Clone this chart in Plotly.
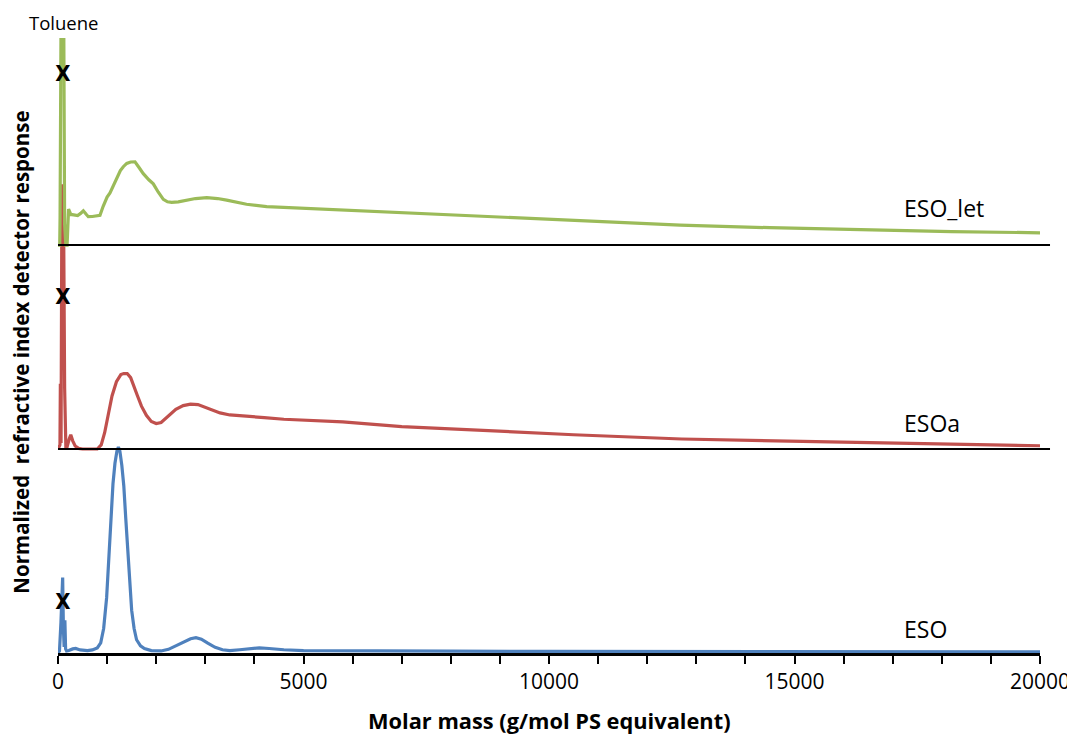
import plotly.graph_objects as go

# ---------------- data ----------------
eso_m = [0, 30, 60, 80, 95, 110, 125, 140, 155, 175, 220, 300, 360, 450, 600, 700, 800, 870, 930, 990,
         1040, 1080, 1120, 1160, 1200, 1230, 1260, 1300, 1340, 1380, 1420, 1460, 1500, 1550, 1600, 1680,
         1760, 1900, 2100, 2250, 2400, 2550, 2700, 2810, 2920, 3050, 3200, 3350, 3500, 3700, 3900, 4100,
         4300, 4600, 5000, 6000, 8000, 10000, 12000, 14000, 16000, 18000, 20000]
eso_v = [0.0, 0.01, 0.15, 0.36, 0.37, 0.12, 0.03, 0.16, 0.02, 0.01, 0.012, 0.02, 0.022, 0.015, 0.012,
         0.015, 0.025, 0.05, 0.12, 0.27, 0.48, 0.68, 0.83, 0.93, 0.99, 1.01, 0.99, 0.92, 0.82, 0.66, 0.5,
         0.34, 0.21, 0.12, 0.065, 0.035, 0.022, 0.012, 0.01, 0.018, 0.035, 0.055, 0.07, 0.075, 0.068,
         0.048, 0.028, 0.016, 0.012, 0.016, 0.022, 0.025, 0.022, 0.016, 0.012, 0.01, 0.009, 0.008, 0.007,
         0.007, 0.006, 0.006, 0.006]

esoa_m = [0, 40, 48, 55, 62, 80, 110, 135, 160, 185, 230, 260, 300, 350, 420, 500, 800, 880, 950, 1020,
          1100, 1190, 1280, 1340, 1410, 1480, 1550, 1620, 1700, 1800, 1900, 2000, 2100, 2250, 2400, 2550,
          2700, 2850, 3000, 3150, 3300, 3500, 3800, 4200, 4600, 5200, 5800, 7000, 8600, 10500, 12700,
          14500, 16300, 18200, 20000]
esoa_v = [0.0, 0.02, 0.32, 0.3, 0.03, 1.29, 1.29, 0.3, 0.01, 0.01, 0.05, 0.07, 0.04, 0.015, 0.003, 0.0,
          0.0, 0.02, 0.08, 0.17, 0.26, 0.33, 0.365, 0.37, 0.37, 0.35, 0.31, 0.26, 0.21, 0.165, 0.135,
          0.125, 0.13, 0.165, 0.195, 0.213, 0.22, 0.218, 0.205, 0.19, 0.177, 0.167, 0.16, 0.154, 0.146,
          0.139, 0.133, 0.11, 0.09, 0.07, 0.049, 0.04, 0.033, 0.024, 0.016]

esolet_m = [0, 35, 42, 48, 55, 70, 110, 135, 160, 185, 215, 260, 320, 400, 460, 516, 570, 617, 700, 800,
            855, 920, 1000, 1059, 1130, 1200, 1270, 1330, 1400, 1480, 1568, 1650, 1737, 1850, 1941, 2040,
            2145, 2230, 2315, 2450, 2620, 2800, 3030, 3250, 3435, 3640, 3840, 4250, 4520, 4930, 6000,
            7300, 8590, 10600, 12670, 14500, 16330, 18200, 20000]
esolet_v = [0.0, 0.0, 0.13, 0.46, 0.2, 1.5, 1.5, 0.1, 0.0, 0.0, 0.176, 0.15, 0.148, 0.145, 0.155, 0.168,
            0.152, 0.139, 0.14, 0.142, 0.146, 0.19, 0.235, 0.255, 0.29, 0.33, 0.365, 0.384, 0.4, 0.407,
            0.408, 0.38, 0.35, 0.32, 0.30, 0.26, 0.224, 0.212, 0.209, 0.212, 0.22, 0.228, 0.232, 0.228,
            0.22, 0.21, 0.2, 0.188, 0.185, 0.18, 0.17, 0.155, 0.142, 0.12, 0.098, 0.085, 0.074, 0.066, 0.06]

series_names = ["ESO", "ESOa", "ESO_let"]
series_m = [eso_m, esoa_m, esolet_m]
series_v = [eso_v, esoa_v, esolet_v]
offsets = [0, 1, 2]
colors = ["#4F81BD", "#C0504D", "#9BBB59"]

toluene_m = [100, 100, 100]
toluene_y = [0.245, 0.74, 0.83]   # relative to each baseline

label_m = [17190, 17190, 17190]
label_y = [0.12, 0.13, 0.18]

x_tickvals = [0, 5000, 10000, 15000, 20000]

# ---------------- figure ----------------
fig = go.Figure()
FONT = "Open Sans"

for name, m, v, off, col in zip(series_names, series_m, series_v, offsets, colors):
    fig.add_trace(go.Scatter(x=m, y=[val + off for val in v], mode="lines",
                             line=dict(color=col, width=3.2), name=name, showlegend=False,
                             hoverinfo="skip"))

# baselines of the offset series
for off in offsets[1:]:
    fig.add_shape(type="line", xref="paper", yref="y", x0=0, x1=1.0102, y0=off, y1=off,
                  line=dict(color="black", width=2), layer="above")

# toluene "X" markers
fig.add_trace(go.Scatter(x=toluene_m, y=[t + o for t, o in zip(toluene_y, offsets)], mode="text",
                         text=["<b>X</b>"] * 3, textposition="middle center",
                         textfont=dict(family="DejaVu Sans Condensed, DejaVu Sans", size=22,
                                       color="black"),
                         showlegend=False, hoverinfo="skip", cliponaxis=False))

# series labels
for name, lm, ly, off in zip(series_names, label_m, label_y, offsets):
    fig.add_annotation(x=lm, y=ly + off, xref="x", yref="y", text=name, showarrow=False,
                       xanchor="left", yanchor="middle",
                       font=dict(family=FONT, size=23, color="black"))

fig.add_annotation(x=120, y=1.026, xref="x", yref="paper", text="Toluene", showarrow=False,
                   xanchor="center", yanchor="middle", font=dict(family=FONT, size=18.5, color="black"))

fig.add_annotation(x=-0.0377, y=0.49, xref="paper", yref="paper", textangle=-90,
                   text="<b>Normalized  refractive index detector response</b>", showarrow=False,
                   xanchor="center", yanchor="middle", font=dict(family=FONT, size=20.5, color="black"))

fig.add_annotation(x=0.5, y=-0.109, xref="paper", yref="paper",
                   text="<b>Molar mass (g/mol PS equivalent)</b>", showarrow=False,
                   xanchor="center", yanchor="middle", font=dict(family=FONT, size=21.8, color="black"))

# the page body adds an 8 px margin, so the figure is 8 px smaller and margins shifted
fig.update_layout(
    width=1067, height=730,
    margin=dict(l=50, r=35, t=30, b=85, autoexpand=False),
    paper_bgcolor="white", plot_bgcolor="white",
    xaxis=dict(range=[0, 20000], tickvals=x_tickvals, ticktext=[str(v) for v in x_tickvals],
               automargin=False,
               showgrid=False, zeroline=False, showline=True, linecolor="black", linewidth=2.5,
               ticks="outside", ticklen=8, tickwidth=2, tickcolor="black",
               minor=dict(dtick=1000, ticks="outside", ticklen=8, tickwidth=2, tickcolor="black",
                          showgrid=False),
               tickfont=dict(family=FONT, size=21, color="black")),
    yaxis=dict(range=[0, 3.015], visible=False, showgrid=False, zeroline=False, automargin=False),
)

fig.write_html("out.html")
